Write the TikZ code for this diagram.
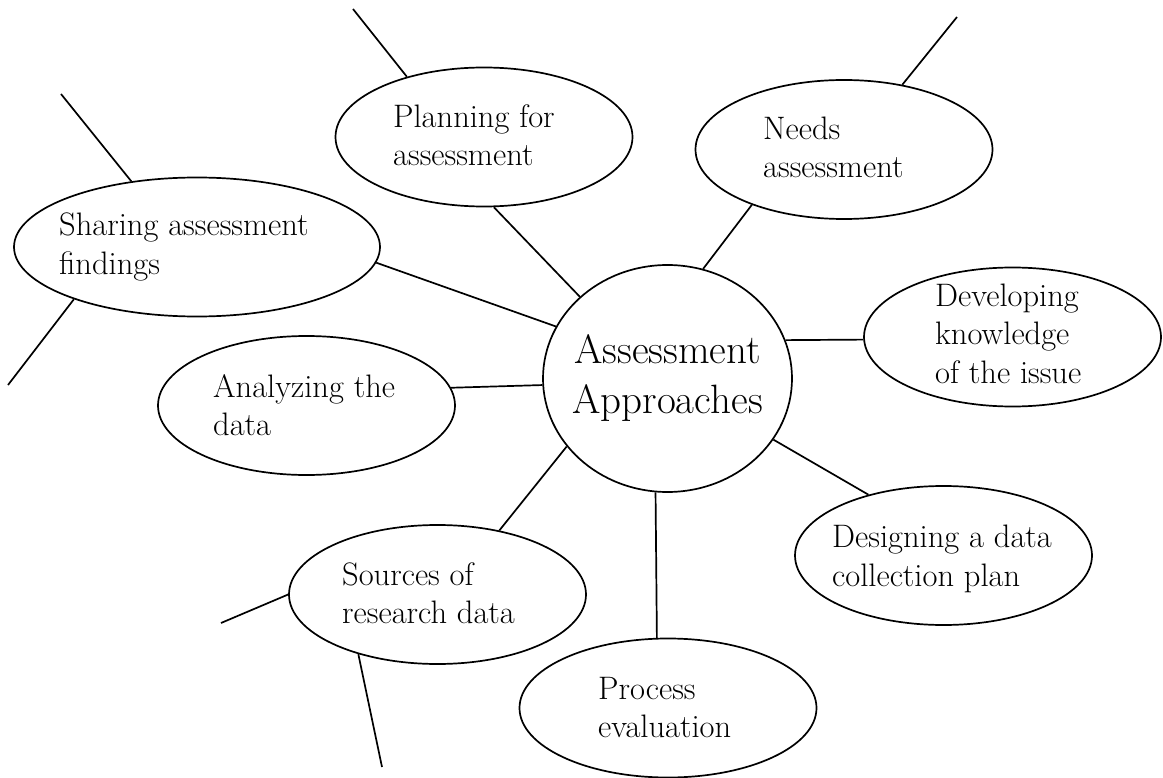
\documentclass[tikz,border=0pt]{standalone}
\usetikzlibrary{shapes.geometric}

\begin{document}
\begin{tikzpicture}[x=1pt,y=-1pt,
    bubble/.style={draw, ellipse, line width=1.7pt, minimum width=297pt, minimum height=139pt, inner sep=0pt},
    blurb/.style={anchor=west, align=left, inner sep=0pt, font=\fontsize{32.5}{38.5}\selectfont},
    spoke/.style={line width=1.7pt}]
  \useasboundingbox (0,0) rectangle (1163,778);

  %% hub
  \node[bubble, minimum width=249pt, minimum height=227pt] (hub) at (667.5,378.5) {};
  \node[align=center, inner sep=0pt, font=\fontsize{41}{50}\selectfont] (hubtxt) at (hub) {Assessment\\Approaches};

  %% topics
  \node[bubble] (plan) at (484,137) {};
  \node[blurb] (plantxt) at (393,135) {Planning for\\assessment};

  \node[bubble] (need) at (844,149.5) {};
  \node[blurb] (needtxt) at (763,147.5) {Needs\\assessment};

  \node[bubble, minimum width=366pt] (share) at (197,247) {};
  \node[blurb] (sharetxt) at (59,247) {Sharing assessment\\findings};

  \node[bubble] (dev) at (1012.5,337) {};
  \node[blurb] (devtxt) at (935,333.5) {Developing\\knowledge\\of the issue};

  \node[bubble] (anl) at (306.5,405.5) {};
  \node[blurb] (anltxt) at (213,405) {Analyzing the\\data};

  \node[bubble] (dsg) at (943.5,555.5) {};
  \node[blurb] (dsgtxt) at (832,559) {Designing a data\\collection plan};

  \node[bubble] (src) at (437.5,594.5) {};
  \node[blurb] (srctxt) at (342,593) {Sources of\\research data};

  \node[bubble] (proc) at (668,708) {};
  \node[blurb] (proctxt) at (598,707.5) {Process\\evaluation};

  %% loose ends
  \coordinate (plantip) at (353,9);
  \coordinate (needtip) at (957,17);
  \coordinate (sharetipa) at (61,94);
  \coordinate (sharetipb) at (8,385);
  \coordinate (srctipa) at (221,623);
  \coordinate (srctipb) at (382,767);

  %% spokes
  \draw[spoke] (plan.-82) -- (hub.137);
  \draw[spoke] (plan.142) -- (plantip);
  \draw[spoke] (need.211) -- (hub.72);
  \draw[spoke] (need.48) -- (needtip);
  \draw[spoke] (share.-5) -- (hub.155);
  \draw[spoke] (share.135) -- (sharetipa);
  \draw[spoke] (share.203.4) -- (sharetipb);
  \draw[spoke] (dev.181) -- (hub.18.6);
  \draw[spoke] (anl.7.2) -- (hub.183.9);
  \draw[spoke] (dsg.141) -- (hub.-30.6);
  \draw[spoke] (src.46.8) -- (hub.214.5);
  \draw[spoke] (src.west) -- (srctipa);
  \draw[spoke] (src.217.2) -- (srctipb);
  \draw[spoke] (proc.99.1) -- (hub.264.7);

\end{tikzpicture}
\end{document}
